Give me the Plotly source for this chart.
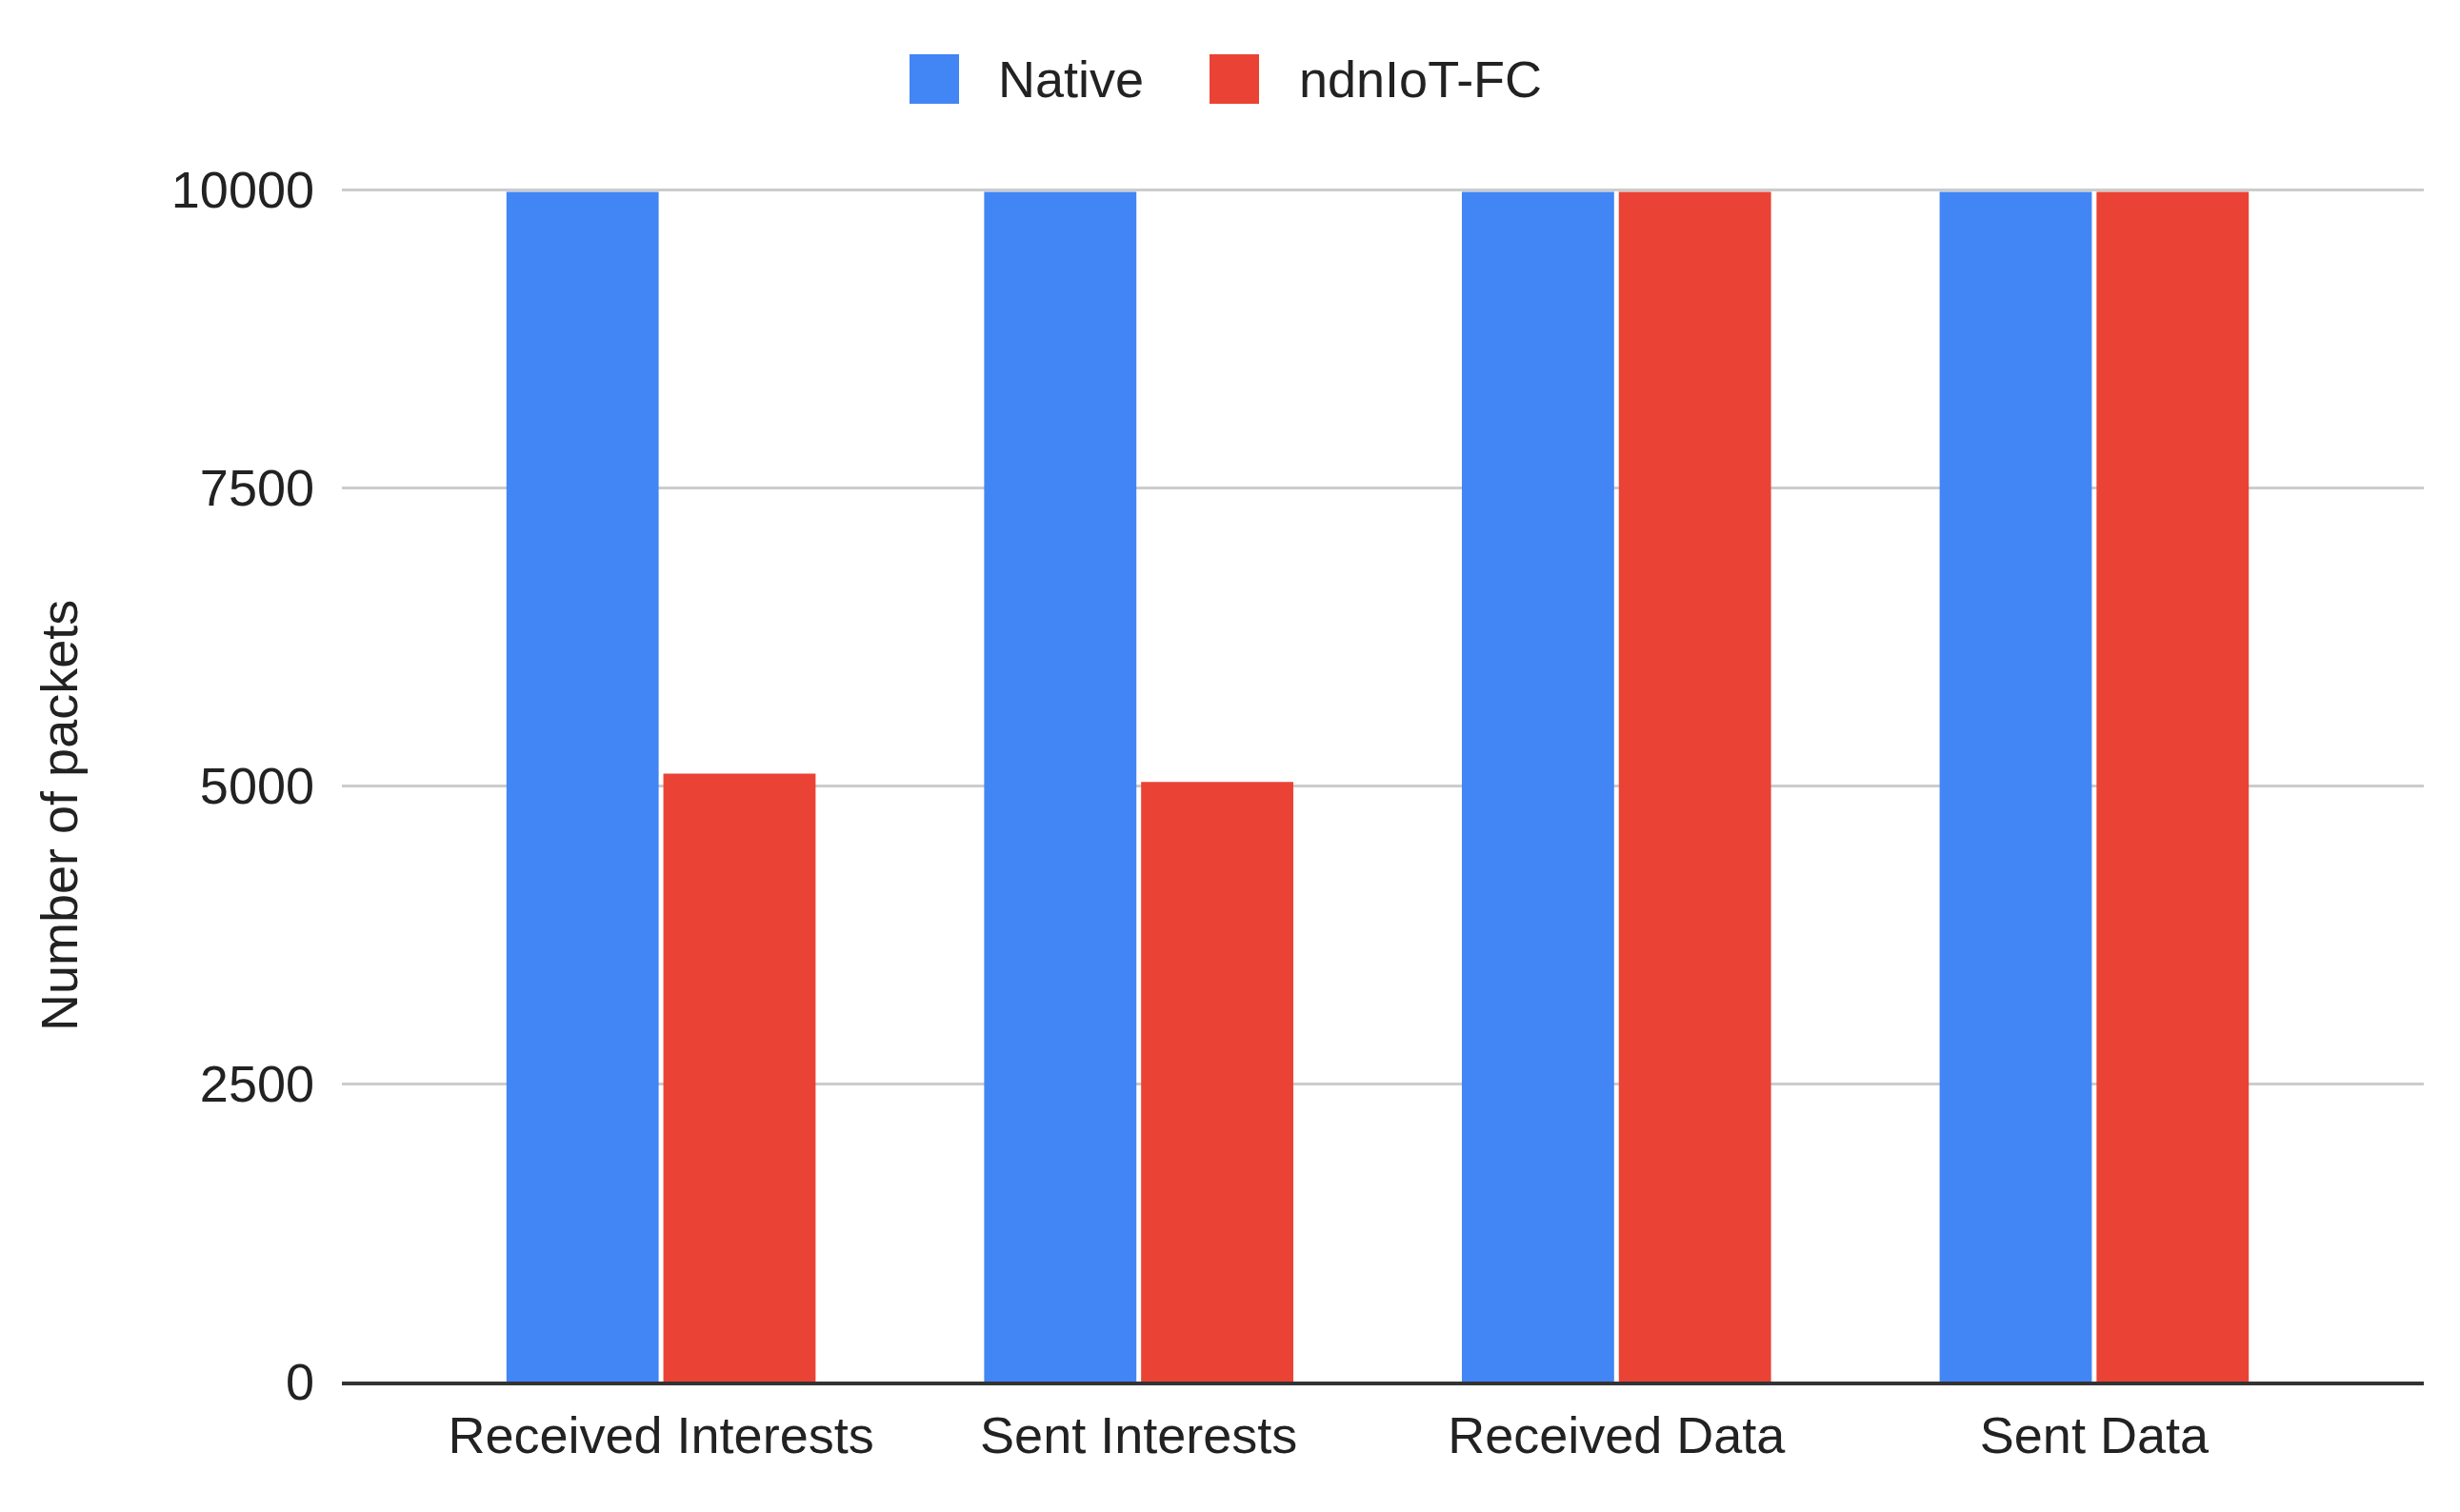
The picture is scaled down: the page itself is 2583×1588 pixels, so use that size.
import plotly.graph_objects as go

categories = ["Received Interests", "Sent Interests", "Received Data", "Sent Data"]
native = [9980, 9980, 9980, 9980]
ndniot_fc = [5100, 5030, 9980, 9980]
y_ticks = [0, 2500, 5000, 7500, 10000]
series_names = ["Native", "ndnIoT-FC"]
colors = ["#4285F4", "#EA4335"]

W, H = 2583, 1588
OFF = 8  # page body margin
L, R, T, B = 351, 46, 189, 145
PW, PH = W - L - R, H - T - B
FONT = "Liberation Sans, Arial, sans-serif"
FS = 54

fig = go.Figure()
fig.add_trace(go.Bar(x=categories, y=native, name=series_names[0],
                     marker=dict(color=colors[0], line=dict(width=0)), showlegend=False))
fig.add_trace(go.Bar(x=categories, y=ndniot_fc, name=series_names[1],
                     marker=dict(color=colors[1], line=dict(width=0)), showlegend=False))

def px_x(px):
    return (px - OFF - L) / PW

def px_y(py):
    return (H - B - (py - OFF)) / PH

# manual legend (large squares like reference)
legend_items = [(955, 1046), (1270, 1362)]
shapes = []
annotations = []
for (sx, tx), name, col in zip(legend_items, series_names, colors):
    shapes.append(dict(type="rect", xref="paper", yref="paper",
                       x0=px_x(sx), x1=px_x(sx + 52), y0=px_y(109), y1=px_y(57),
                       fillcolor=col, line=dict(width=0), layer="above"))
    annotations.append(dict(text=name, xref="paper", yref="paper",
                            x=px_x(tx), y=px_y(83), xanchor="left", yanchor="middle",
                            showarrow=False, font=dict(family=FONT, size=FS, color="#222222")))

annotations.append(dict(text="Number of packets", xref="paper", yref="paper",
                        x=px_x(62), y=px_y(857), xanchor="center", yanchor="middle",
                        textangle=-90, showarrow=False,
                        font=dict(family=FONT, size=FS, color="#222222")))

fig.update_layout(
    width=W, height=H,
    margin=dict(l=L, r=R, t=T, b=B, pad=0),
    paper_bgcolor="white", plot_bgcolor="white",
    barmode="group", bargap=0.343, bargroupgap=0.03,
    font=dict(family=FONT, size=FS, color="#222222"),
    shapes=shapes, annotations=annotations,
    showlegend=False,
    xaxis=dict(range=[-0.668, 3.690], showgrid=False, showline=True,
               linecolor="#333333", linewidth=4, ticks="",
               tickfont=dict(family=FONT, size=FS, color="#222222"),
               ticklabelstandoff=6),
    yaxis=dict(range=[0, 10016], tickvals=y_ticks, ticktext=[str(v) for v in y_ticks],
               showgrid=True, gridcolor="#CCCCCC", gridwidth=3, zeroline=False,
               showline=False, ticks="",
               tickfont=dict(family=FONT, size=FS, color="#222222"),
               ticklabelstandoff=28),
)

fig.write_html("out.html")
